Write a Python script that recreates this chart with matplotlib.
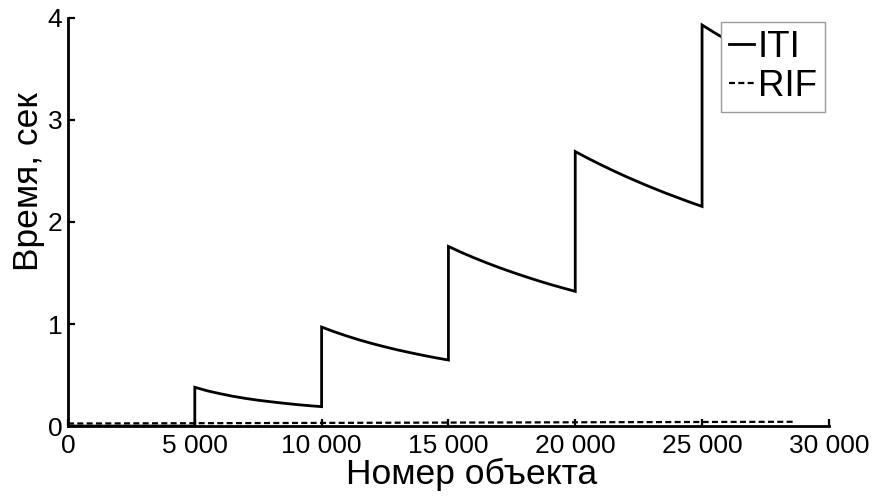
import matplotlib
matplotlib.use("Agg")
import matplotlib.pyplot as plt

# object number (x) and time in seconds
iti_x = [0, 5000,
         5000, 5500, 6000, 6500, 7000, 7500, 8000, 8500, 9000, 9500, 10000,
         10000, 10500, 11000, 11500, 12000, 12500, 13000, 13500, 14000, 14500, 15000,
         15000, 15500, 16000, 16500, 17000, 17500, 18000, 18500, 19000, 19500, 20000,
         20000, 20500, 21000, 21500, 22000, 22500, 23000, 23500, 24000, 24500, 25000,
         25000, 25500, 26000, 26500, 27000, 27500, 28000, 28700]
iti_y = [0.0, 0.0,
         0.38, 0.345, 0.317, 0.292, 0.271, 0.253, 0.238, 0.224, 0.211, 0.20, 0.19,
         0.97, 0.924, 0.882, 0.843, 0.808, 0.776, 0.746, 0.719, 0.693, 0.669, 0.647,
         1.76, 1.703, 1.65, 1.60, 1.553, 1.509, 1.467, 1.427, 1.389, 1.354, 1.32,
         2.69, 2.624, 2.562, 2.502, 2.445, 2.391, 2.339, 2.289, 2.242, 2.196, 2.152,
         3.93, 3.853, 3.779, 3.708, 3.639, 3.573, 3.509, 3.423]

rif_x = [0, 5000, 10000, 15000, 20000, 25000, 28700]
rif_y = [0.025, 0.028, 0.031, 0.034, 0.037, 0.040, 0.042]

x_ticks = [0, 5000, 10000, 15000, 20000, 25000, 30000]
x_labels = ["0", "5 000", "10 000", "15 000", "20 000", "25 000", "30 000"]
y_ticks = [0, 1, 2, 3, 4]

plt.rcParams["font.family"] = ["Liberation Sans", "DejaVu Sans"]

fig = plt.figure(figsize=(8.76, 4.96), dpi=100)
ax = fig.add_axes([0.0776, 0.141, 0.8686, 0.823])

ax.plot(iti_x, iti_y, color="black", lw=2.0, label="ITI", solid_joinstyle="miter")
ax.plot(rif_x, rif_y, color="black", lw=1.6, ls=(0, (2.7, 1.5)), label="RIF")

ax.set_xlim(0, 30000)
ax.set_ylim(0, 4)
ax.set_xticks(x_ticks)
ax.set_xticklabels(x_labels)
ax.set_yticks(y_ticks)

for side in ("top", "right"):
    ax.spines[side].set_visible(False)
for side in ("left", "bottom"):
    ax.spines[side].set_linewidth(2.0)
    ax.spines[side].set_zorder(1)

ax.tick_params(direction="in", length=5, width=1.6, labelsize=19)
ax.tick_params(axis="x", pad=6)
ax.tick_params(axis="y", pad=4)
ax.set_xlabel("Номер объекта", fontsize=25.5)
ax.set_ylabel("Время, сек", fontsize=25.5)
ax.xaxis.set_label_coords(0.531, -0.078)
ax.yaxis.set_label_coords(-0.030, 0.600)

leg = ax.legend(loc="upper right", fontsize=26.5, frameon=True, fancybox=False,
                handlelength=0.7, handletextpad=0.1, borderpad=0.22,
                labelspacing=0.12, borderaxespad=0.1)
leg.get_frame().set_edgecolor("#9a9a9a")
leg.get_frame().set_linewidth(1.0)
leg.get_frame().set_alpha(1)

fig.savefig("out.png", dpi=100)
